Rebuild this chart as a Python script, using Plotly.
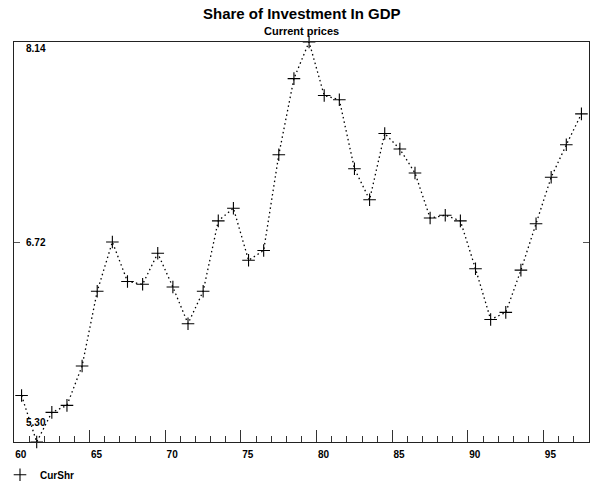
import plotly.graph_objects as go

# Share of investment in GDP, current prices (per cent), 1960-1997
years = list(range(1960, 1998))
cur_shr = [5.63, 5.30, 5.51, 5.56, 5.84, 6.37, 6.72, 6.44, 6.42, 6.64,
           6.40, 6.14, 6.37, 6.87, 6.96, 6.59, 6.66, 7.34, 7.88, 8.14,
           7.76, 7.73, 7.24, 7.02, 7.49, 7.38, 7.21, 6.89, 6.91, 6.87,
           6.53, 6.17, 6.22, 6.52, 6.85, 7.18, 7.41, 7.63]

x_tick_vals = [1960, 1965, 1970, 1975, 1980, 1985, 1990, 1995]
x_tick_text = ["60", "65", "70", "75", "80", "85", "90", "95"]

y_lo, y_hi = min(cur_shr), max(cur_shr)
y_tick_vals = [y_lo, round((y_lo + y_hi) / 2, 2), y_hi]
y_tick_text = [f"{v:.2f}" for v in y_tick_vals]

# annual observations are plotted at mid-year
x_mid = [y + 0.5 for y in years]

FONT = "Liberation Sans, Arial, sans-serif"
MARKER = dict(symbol="cross-thin", size=9, line=dict(color="black", width=1.1))

fig = go.Figure()
fig.add_trace(go.Scatter(
    x=x_mid, y=cur_shr, mode="lines+markers", name="CurShr",
    line=dict(color="black", width=1.3, dash="1.5px,3px"),
    marker=MARKER, cliponaxis=False, showlegend=False,
))
# legend entry shows the marker only
fig.add_trace(go.Scatter(
    x=[None], y=[None], mode="markers", name="<b>CurShr</b>",
    marker=MARKER, showlegend=True,
))

fig.update_xaxes(
    range=[1960, 1998], tickvals=x_tick_vals,
    ticktext=[f"<b>{t}</b>" for t in x_tick_text],
    ticks="inside", ticklen=12, tickwidth=1.2, tickcolor="#333",
    ticklabelposition="outside right", ticklabelstandoff=3,
    minor=dict(dtick=1, tick0=1960, ticks="inside", ticklen=6, tickwidth=1, tickcolor="#333"),
    showline=True, linecolor="#222", linewidth=1.3, mirror=True,
    showgrid=False, zeroline=False, automargin=False,
    tickfont=dict(family=FONT, size=10, color="black"),
)
fig.update_yaxes(
    range=[y_lo, y_hi], tickvals=y_tick_vals, ticktext=["", "", ""],
    ticks="inside", ticklen=6, tickwidth=1.2, tickcolor="#555",
    showline=True, linecolor="#222", linewidth=1.3, mirror="allticks",
    showgrid=False, zeroline=False, automargin=False,
)

# value labels drawn inside the left edge of the plot
anchors = ["bottom", "middle", "top"]
offsets = [12, 0, 1]
for v, t, a, dy in zip(y_tick_vals, y_tick_text, anchors, offsets):
    fig.add_annotation(
        x=0, xref="paper", y=v, yref="y", text=f"<b>{t}</b>",
        xanchor="left", yanchor=a, xshift=10, yshift=dy, showarrow=False,
        font=dict(family=FONT, size=10, color="black"),
    )

# title and subtitle above the frame
fig.add_annotation(
    x=0.5, xref="paper", y=1, yref="paper", yanchor="bottom", yshift=18,
    text="<b>Share of Investment In GDP</b>", showarrow=False,
    font=dict(family=FONT, size=15, color="black"),
)
fig.add_annotation(
    x=0.5, xref="paper", y=1, yref="paper", yanchor="bottom", yshift=3,
    text="<b>Current prices</b>", showarrow=False,
    font=dict(family=FONT, size=11, color="black"),
)

fig.update_layout(
    width=590, height=481,
    margin=dict(l=14, r=1, t=42, b=39, autoexpand=False),
    paper_bgcolor="white", plot_bgcolor="white",
    font=dict(family=FONT, color="black"),
    legend=dict(
        x=-0.005, xref="container", y=0.043, yref="container",
        xanchor="left", yanchor="top", orientation="h",
        font=dict(family=FONT, size=10, color="black"),
        bgcolor="rgba(0,0,0,0)", itemwidth=30,
    ),
)

fig.write_html("out.html")
